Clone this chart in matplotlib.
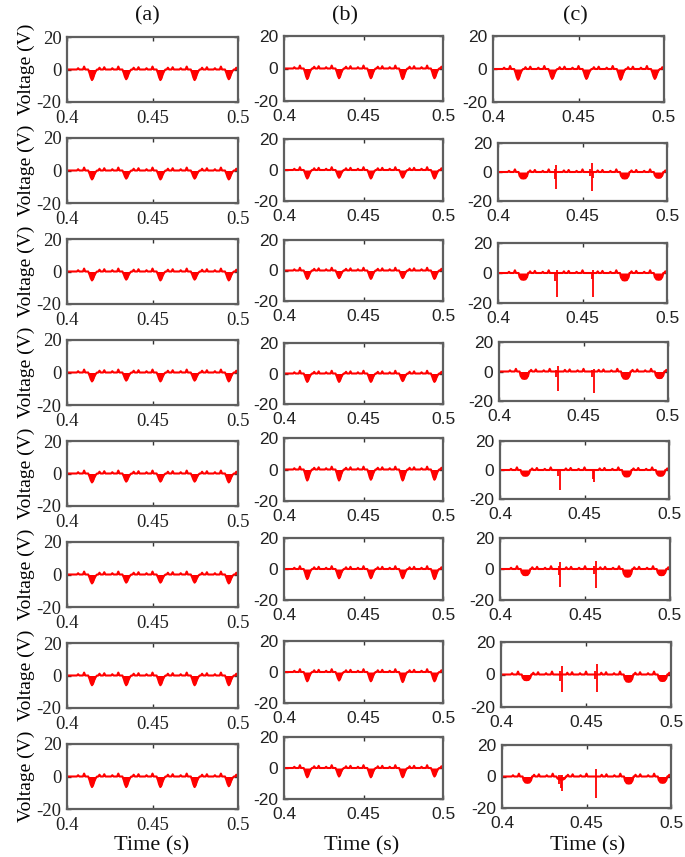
import numpy as np
import matplotlib
matplotlib.use("Agg")
import matplotlib.pyplot as plt

# ---------------- data ----------------
COLUMN_TITLES = ["(a)", "(b)", "(c)"]
X_TICKS = [0.4, 0.45, 0.5]
X_TICKLABELS = ["0.4", "0.45", "0.5"]
Y_TICKS = [20, 0, -20]
Y_TICKLABELS = ["20", "0", "-20"]

DIP_TIMES = [0.415, 0.435, 0.455, 0.475, 0.495]
# notch profile (time offset from notch centre, fraction of notch depth)
SHARP_DT = [-0.0026, -0.0018, -0.0011, -0.0004, 0.0002, 0.0010, 0.0018, 0.0026]
SHARP_REL = [0.0, 0.35, 0.75, 1.0, 0.85, 0.45, 0.15, 0.0]
ROUND_DT = [-0.0028, -0.0022, -0.0012, 0.0, 0.0012, 0.0022, 0.0028]
ROUND_REL = [0.0, 0.6, 0.95, 1.0, 0.95, 0.6, 0.0]
# small positive blobs around each notch
BLOB_DT = [-0.0085, -0.0050, 0.0040, 0.0068]
BLOB_H = [0.8, 1.8, 1.1, 1.4]

# notch depths (V) for each panel, rows 1..8, one value per notch
DEPTH_A = [
    [-6.5, -6.0, -6.5, -6.5, -6.0],
    [-5.5, -5.0, -5.5, -5.0, -5.5],
    [-5.5, -5.0, -5.5, -5.0, -5.5],
    [-5.5, -5.0, -5.5, -5.0, -5.5],
    [-5.5, -5.0, -5.0, -5.0, -5.5],
    [-5.5, -5.0, -5.0, -5.0, -5.5],
    [-6.0, -6.0, -6.0, -6.0, -6.0],
    [-6.5, -6.5, -6.5, -6.5, -6.0],
]
DEPTH_B = [
    [-6.5, -6.0, -6.0, -6.5, -6.0],
    [-5.5, -5.0, -5.5, -5.0, -5.5],
    [-5.5, -5.0, -5.5, -5.0, -5.5],
    [-5.5, -5.5, -5.5, -5.0, -5.5],
    [-7.0, -7.0, -6.5, -7.0, -6.5],
    [-6.5, -6.0, -6.0, -6.0, -6.5],
    [-6.0, -5.5, -6.0, -6.5, -6.0],
    [-6.0, -5.5, -6.0, -6.0, -5.5],
]
DEPTH_C = [
    [-6.5, -6.0, -6.0, -6.5, -6.0],
    [-4.5, 0.0, 0.0, -4.5, -4.0],
    [-4.5, 0.0, 0.0, -5.0, -4.5],
    [-5.0, 0.0, 0.0, -5.0, -4.5],
    [-4.0, 0.0, 0.0, -4.5, -4.0],
    [-4.0, 0.0, 0.0, -5.0, -4.0],
    [-3.5, 0.0, 0.0, -4.5, -4.0],
    [-4.0, -2.0, 0.0, -4.5, -4.0],
]
# spikes in column (c): (time, min V, max V)
SPIKES_C = [
    [],
    [(0.4345, -11.5, 5.0), (0.4335, -5.0, 2.0), (0.4555, -13.0, 6.0), (0.4545, -3.0, 2.0), (0.4565, -4.0, 1.0)],
    [(0.4350, -16.0, 2.0), (0.4340, -5.0, 1.0), (0.4565, -16.0, 2.0), (0.4555, -4.0, 1.0)],
    [(0.4352, -13.0, 4.0), (0.4340, -4.0, 1.0), (0.4560, -14.5, 2.0), (0.4550, -4.0, 1.0)],
    [(0.4357, -14.0, 1.0), (0.4345, -4.0, 1.0), (0.4559, -8.0, 1.0), (0.4553, -6.0, 1.0)],
    [(0.4355, -11.5, 4.5), (0.4345, -4.0, 2.0), (0.4562, -12.0, 5.0), (0.4550, -3.0, 2.0)],
    [(0.4357, -10.7, 5.0), (0.4345, -4.0, 2.0), (0.4562, -10.5, 6.5), (0.4550, -3.0, 2.0)],
    [(0.4355, -9.0, 1.0), (0.4348, -7.0, 1.0), (0.4340, -5.0, 1.0), (0.4558, -13.7, 4.5)],
]

# ---------------- layout (pixel boxes: left, top, right, bottom) ----------------
W, H = 685, 857
BOX_A = [(67, 37 + 101 * k, 238, 102 + 101 * k) for k in range(8)]
B_TOPS = [36, 139, 240, 343, 438, 538, 641, 737]
B_BOTS = [101, 201, 301, 404, 501, 600, 703, 799]
BOX_B = [(284, t, 443, b) for t, b in zip(B_TOPS, B_BOTS)]
BOX_C = [(493, 36, 664, 102), (498, 143, 667, 201), (498, 243, 667, 303),
         (499, 342, 668, 401), (500, 441, 669, 499), (500, 538, 670, 600),
         (501, 642, 671, 707), (502, 745, 671, 808)]
XLABEL_POS = [(152, 846), (362, 846), (588, 846)]
TITLE_POS = [(147, 16), (345, 16), (575, 16)]

RED = "#ff0000"
SPINE = "#5f5f5f"
SERIF = ["Liberation Serif", "DejaVu Serif"]
SANS = ["Liberation Sans", "DejaVu Sans"]


def build_trace(depths, round_shape):
    dts = ROUND_DT if round_shape else SHARP_DT
    rel = ROUND_REL if round_shape else SHARP_REL
    pts = {0.4: 0.0, 0.5: 0.0}
    for tc, d in zip(DIP_TIMES, depths):
        if d != 0.0:
            for dt, r in zip(dts, rel):
                pts[round(tc + dt, 6)] = r * d
        for bdt, bh in zip(BLOB_DT, BLOB_H):
            tb = tc + bdt
            pts[round(tb - 0.0007, 6)] = 0.0
            pts[round(tb, 6)] = bh
            pts[round(tb + 0.0007, 6)] = 0.0
    ts = np.array(sorted(pts))
    vs = np.array([pts[t] for t in ts])
    return ts, vs


fig = plt.figure(figsize=(W / 100, H / 100), dpi=100)

def make_ax(box, family, size):
    l, t, r, b = box
    ax = fig.add_axes([l / W, 1 - b / H, (r - l) / W, (b - t) / H])
    ax.set_xlim(0.4, 0.5)
    ax.set_ylim(-20, 20)
    ax.set_xticks(X_TICKS)
    ax.set_xticklabels(X_TICKLABELS)
    ax.set_yticks(Y_TICKS)
    ax.set_yticklabels(Y_TICKLABELS)
    ax.tick_params(direction="in", top=True, right=True, length=3, width=1,
                   color="#333333", labelcolor="#222222", labelsize=size)
    ax.tick_params(axis="x", pad=6)
    ax.tick_params(axis="y", pad=4)
    for lab in ax.get_xticklabels() + ax.get_yticklabels():
        lab.set_family(family)
    for s in ax.spines.values():
        s.set_color(SPINE)
        s.set_linewidth(1.6)
    return ax

columns = [(BOX_A, DEPTH_A, SERIF, 13.5), (BOX_B, DEPTH_B, SANS, 12.5),
           (BOX_C, DEPTH_C, SANS, 12.5)]
for ci, (boxes, depths, fam, size) in enumerate(columns):
    for ri in range(8):
        ax = make_ax(boxes[ri], fam, size)
        round_shape = (ci == 2 and ri > 0)
        ts, vs = build_trace(depths[ri], round_shape)
        ax.fill_between(ts, vs, 0, color=RED, lw=0)
        ax.plot(ts, vs, color=RED, lw=1.5)
        if ci == 2:
            for (t, lo, hi) in SPIKES_C[ri]:
                ax.vlines(t, lo, hi, color=RED, lw=1.3)
        if ci == 0:
            ax.set_ylabel("Voltage (V)", family=SERIF, fontsize=14, labelpad=1)

for ci in range(3):
    x, y = TITLE_POS[ci]
    fig.text(x / W, 1 - y / H, COLUMN_TITLES[ci], family=SERIF, fontsize=16,
             ha="center", va="center", color="#111111")
    x, y = XLABEL_POS[ci]
    fig.text(x / W, 1 - y / H, "Time (s)", family=SERIF, fontsize=16,
             ha="center", va="center", color="#111111")

fig.savefig("out.png", dpi=100)
